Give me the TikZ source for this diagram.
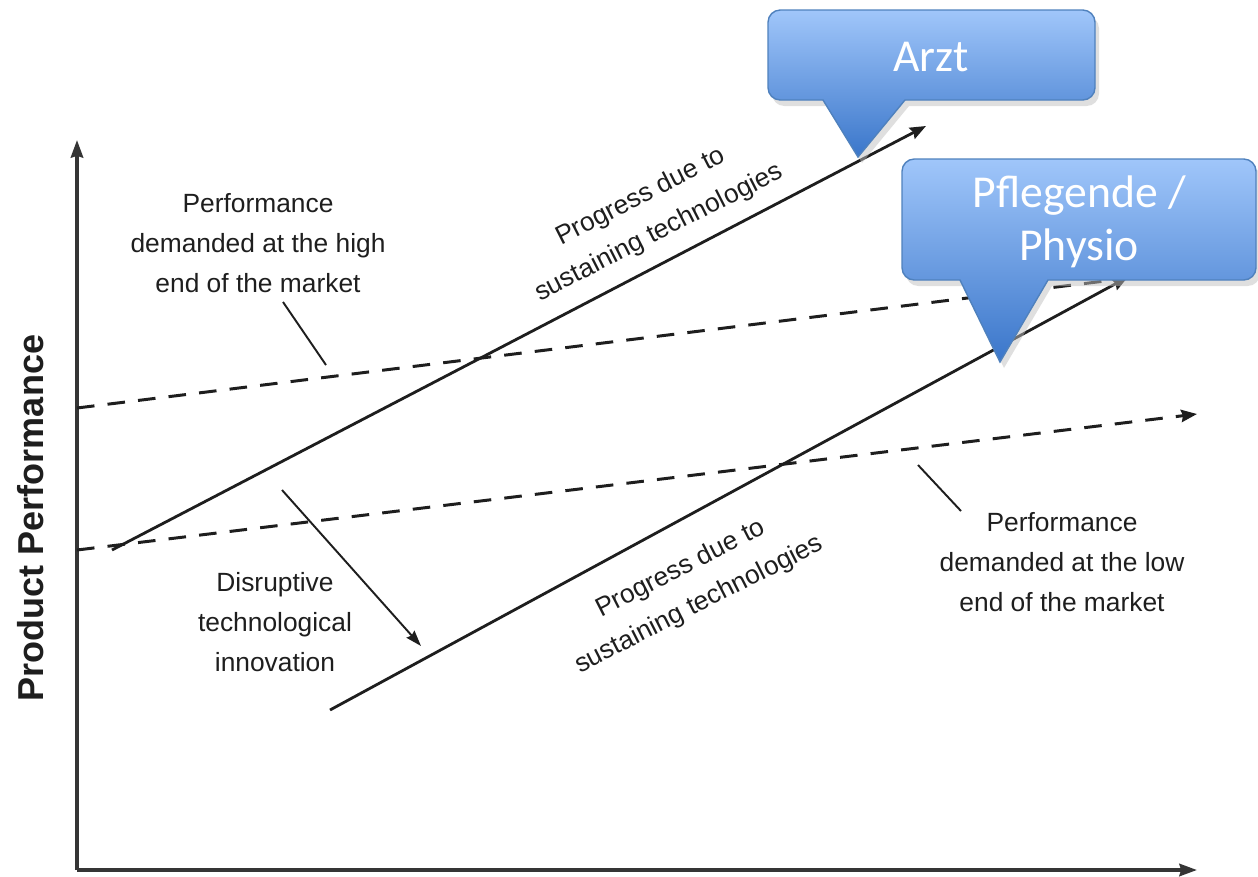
\documentclass[tikz,border=0pt]{standalone}
\usepackage{fontspec}
\setmainfont{Liberation Sans}
\newfontfamily\calloutfont{Carlito}
\usetikzlibrary{arrows.meta, positioning}

\definecolor{ink}{RGB}{30,30,30}
\definecolor{boxtop}{RGB}{160,198,250}
\definecolor{boxbottom}{RGB}{58,118,202}
\definecolor{boxline}{RGB}{79,129,189}

\begin{document}
\begin{tikzpicture}[x=0.02cm, y=-0.02cm,
    axisline/.style={line width=2pt, draw=ink!90},
    trend/.style={line width=1.6pt, draw=ink},
    demand/.style={line width=1.7pt, draw=ink, dash pattern=on 10pt off 7.5pt},
    leader/.style={line width=1.1pt, draw=ink},
    chartnote/.style={align=center, text=ink, inner sep=0pt, font=\fontsize{15}{22.8}\selectfont},
    bubble/.style={draw=boxline, line width=0.8pt, top color=boxtop, bottom color=boxbottom},
    bubbleshadow/.style={fill=black!25, opacity=0.5},
    bubbletext/.style={align=center, text=white, inner sep=0pt, font=\calloutfont\fontsize{26}{30}\selectfont}]

\useasboundingbox (0,0) rectangle (1258,876);

% axes
\coordinate (origin) at (77,870);
\coordinate (ytop) at (77,140);
\coordinate (xend) at (1197,870);
\draw[axisline, arrows=-{Stealth[length=10pt,width=7pt,inset=1pt]}] (origin) -- (ytop);
\draw[axisline, arrows=-{Stealth[length=10pt,width=7pt,inset=1pt]}] (origin) -- (xend);
\node[rotate=90, text=ink, font=\bfseries\fontsize{20.5}{24}\selectfont] (yname) at (31,518) {Product Performance};

% demanded performance
\coordinate (highstart) at (77,408);
\coordinate (highend) at (1186,271);
\coordinate (lowstart) at (77,550);
\coordinate (lowend) at (1197,414);
\draw[demand, arrows=-{Stealth[length=9pt,width=7pt,inset=1pt]}] (highstart) -- (highend);
\draw[demand, arrows=-{Stealth[length=9pt,width=7pt,inset=1pt]}] (lowstart) -- (lowend);

% sustaining technologies
\coordinate (upstart) at (112,550);
\coordinate (upend) at (926,126);
\coordinate (downstart) at (330,710);
\coordinate (downend) at (1128,277);
\draw[trend, arrows=-{Stealth[length=9pt,width=7pt,inset=1pt]}] (upstart) -- (upend);
\draw[trend, arrows=-{Stealth[length=9pt,width=7pt,inset=1pt]}] (downstart) -- (downend);

% disruptive step
\coordinate (jumpstart) at (282,490);
\coordinate (jumpend) at (421,646);
\draw[leader, arrows=-{Stealth[length=9pt,width=6pt,inset=1pt]}] (jumpstart) -- (jumpend);

% texts
\node[chartnote] (highnote) at (258,243) {Performance\\demanded at the high\\end of the market};
\node[chartnote] (lownote) at (1062,562) {Performance\\demanded at the low\\end of the market};
\node[chartnote] (disruptnote) at (275,622) {Disruptive\\technological\\innovation};
\node[chartnote, rotate=27] (upnote) at (650,215) {Progress due to\\sustaining technologies};
\node[chartnote, rotate=27] (downnote) at (690,587) {Progress due to\\sustaining technologies};

\coordinate (highleaderA) at (283,302);
\coordinate (highleaderB) at (326,365);
\coordinate (lowleaderA) at (918,465);
\coordinate (lowleaderB) at (961,511);
\draw[leader] (highleaderA) -- (highleaderB);
\draw[leader] (lowleaderA) -- (lowleaderB);

% callouts
\path[bubbleshadow, shift={(4,6)}] (858,157) -- (823,100) [rounded corners=7pt] -- (768,100) -- (768,10) -- (1095,10) -- (1095,100) [sharp corners] -- (905,100) -- cycle;
\path[bubble] (858,157) -- (823,100) [rounded corners=7pt] -- (768,100) -- (768,10) -- (1095,10) -- (1095,100) [sharp corners] -- (905,100) -- cycle;
\node[bubbletext] (arzt) at (931,57) {Arzt};

\path[bubbleshadow, shift={(4,6)}] (1000,362) -- (960,280) [rounded corners=7pt] -- (902,280) -- (902,159) -- (1256,159) -- (1256,280) [sharp corners] -- (1048,280) -- cycle;
\path[bubble] (1000,362) -- (960,280) [rounded corners=7pt] -- (902,280) -- (902,159) -- (1256,159) -- (1256,280) [sharp corners] -- (1048,280) -- cycle;
\node[bubbletext] (pflege) at (1079,222) {Pflegende /\\Physio};

\end{tikzpicture}
\end{document}
